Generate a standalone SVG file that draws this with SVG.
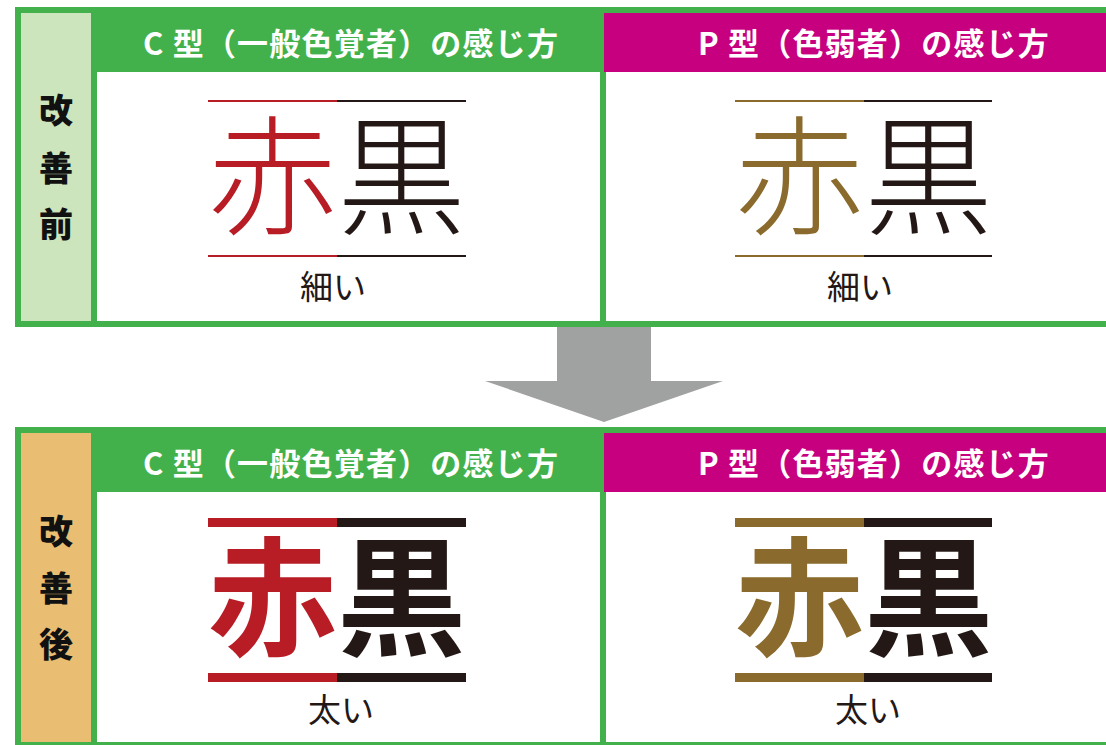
<svg xmlns="http://www.w3.org/2000/svg" width="1106" height="745" viewBox="0 0 1106 745">
<style>
.frame{fill:#43b14b}
.white{fill:#ffffff}
.mag{fill:#c6007e}
.hdr{font-family:"Noto Sans CJK JP","Noto Sans",sans-serif;font-weight:700;font-size:31px;letter-spacing:1.2px;fill:#ffffff;text-anchor:middle}
.side{font-family:"Noto Sans CJK JP",sans-serif;font-weight:900;font-size:34px;fill:#111111;text-anchor:middle}
.big{font-family:"Noto Sans CJK JP",sans-serif;font-size:129px}
.thin{font-weight:300}
.bold{font-weight:700}
.cap{font-family:"Noto Sans CJK JP",sans-serif;font-size:33px;fill:#231815;text-anchor:middle}
.red{fill:#b81c25}
.brown{fill:#8b6b2d}
.blk{fill:#231815}
</style>
<rect width="1106" height="745" fill="#ffffff"/>

<g id="panel-before">
  <rect class="frame" x="15" y="7" width="1091" height="320"/>
  <rect x="21" y="13" width="70" height="308" fill="#cde5bd"/>
  <rect class="white" x="97" y="72" width="503" height="249"/>
  <rect class="white" x="606" y="72" width="500" height="249"/>
  <rect class="mag" x="604" y="13" width="502" height="59"/>
  <text class="side" x="56" y="123">改</text>
  <text class="side" x="56" y="181">善</text>
  <text class="side" x="56" y="237">前</text>
  <text class="hdr" x="351" y="55">C 型（一般色覚者）の感じ方</text>
  <text class="hdr" x="874" y="55">P 型（色弱者）の感じ方</text>
  <rect x="208" y="100" width="129" height="2" class="red"/>
  <rect x="337" y="100" width="129" height="2" class="blk"/>
  <rect x="208" y="255" width="129" height="2" class="red"/>
  <rect x="337" y="255" width="129" height="2" class="blk"/>
  <text class="big thin" x="337" y="225" text-anchor="middle"><tspan class="red">赤</tspan><tspan class="blk">黒</tspan></text>
  <text class="cap" x="333" y="299">細い</text>
  <rect x="735" y="100" width="129" height="2" class="brown"/>
  <rect x="864" y="100" width="128" height="2" class="blk"/>
  <rect x="735" y="255" width="129" height="2" class="brown"/>
  <rect x="864" y="255" width="128" height="2" class="blk"/>
  <text class="big thin" x="864" y="225" text-anchor="middle"><tspan class="brown">赤</tspan><tspan class="blk">黒</tspan></text>
  <text class="cap" x="860" y="299">細い</text>
</g>

<g id="connectors">
  <polygon points="557,327 651,327 651,381 723,381 604,422 485,381 557,381" fill="#a0a2a1"/>
</g>

<g id="panel-after">
  <rect class="frame" x="15" y="427" width="1091" height="318"/>
  <rect x="21" y="433" width="70" height="309" fill="#e9bd72"/>
  <rect class="white" x="97" y="492" width="503" height="250"/>
  <rect class="white" x="606" y="492" width="500" height="250"/>
  <rect class="mag" x="604" y="433" width="502" height="59"/>
  <text class="side" x="56" y="544">改</text>
  <text class="side" x="56" y="601">善</text>
  <text class="side" x="56" y="657">後</text>
  <text class="hdr" x="351" y="475">C 型（一般色覚者）の感じ方</text>
  <text class="hdr" x="874" y="475">P 型（色弱者）の感じ方</text>
  <rect x="208" y="518" width="129" height="9" class="red"/>
  <rect x="337" y="518" width="129" height="9" class="blk"/>
  <rect x="208" y="673" width="129" height="9" class="red"/>
  <rect x="337" y="673" width="129" height="9" class="blk"/>
  <text class="big bold" x="337" y="646" text-anchor="middle"><tspan class="red">赤</tspan><tspan class="blk">黒</tspan></text>
  <text class="cap" x="341" y="722">太い</text>
  <rect x="735" y="518" width="129" height="9" class="brown"/>
  <rect x="864" y="518" width="128" height="9" class="blk"/>
  <rect x="735" y="673" width="129" height="9" class="brown"/>
  <rect x="864" y="673" width="128" height="9" class="blk"/>
  <text class="big bold" x="864" y="646" text-anchor="middle"><tspan class="brown">赤</tspan><tspan class="blk">黒</tspan></text>
  <text class="cap" x="868" y="722">太い</text>
</g>
</svg>
